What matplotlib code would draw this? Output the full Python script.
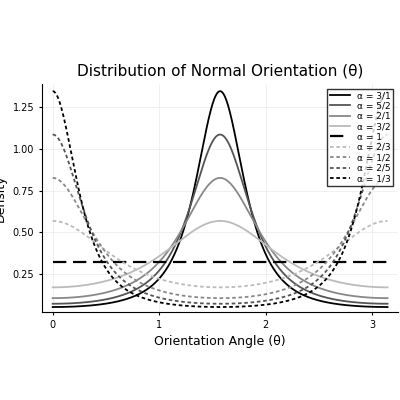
import numpy as np
import matplotlib
matplotlib.use("Agg")
import matplotlib.pyplot as plt

labels = ["α = 3/1", "α = 5/2", "α = 2/1", "α = 3/2", "α = 1", "α = 2/3", "α = 1/2", "α = 2/5", "α = 1/3"]
alphas = [3.0, 2.5, 2.0, 1.5, 1.0, 2/3, 0.5, 0.4, 1/3]
colors = ["black", "#555555", "#888888", "#bbbbbb", "black", "#bbbbbb", "#888888", "#555555", "black"]
styles = ["-", "-", "-", "-", (0, (6, 3)), (0, (2, 1.5)), (0, (2, 1.5)), (0, (2, 1.5)), (0, (2, 1.5))]

theta = np.linspace(0, np.pi, 600)
fig, ax = plt.subplots(figsize=(4, 4), dpi=100)
for a, lab, c, ls in zip(alphas, labels, colors, styles):
    f = (a**2 * np.cos(theta)**2 + np.sin(theta)**2) ** -1.5
    f = f / np.trapezoid(f, theta)
    lw = 1.6 if ls == (0, (6, 3)) else 1.3
    ax.plot(theta, f, color=c, ls=ls, lw=lw, label=lab)

ax.set_xlim(-0.1, 3.24)
ax.set_ylim(0.02, 1.39)
ax.set_xticks([0, 1, 2, 3])
ax.set_yticks([0.25, 0.5, 0.75, 1.0, 1.25])
ax.set_yticklabels(["0.25", "0.50", "0.75", "1.00", "1.25"])
ax.tick_params(labelsize=7, length=2)
ax.grid(True, color="#eeeeee", lw=0.6)
ax.set_xlabel("Orientation Angle (θ)", fontsize=9)
ax.set_ylabel("Density", fontsize=9)
ax.set_title("Distribution of Normal Orientation (θ)", fontsize=11)
ax.spines["top"].set_visible(False)
ax.spines["right"].set_visible(False)
leg = ax.legend(loc="upper right", fontsize=6.5, frameon=True, fancybox=False,
                edgecolor="black", borderpad=0.3, labelspacing=0.15, handlelength=2.2)
fig.subplots_adjust(left=0.105, right=0.995, top=0.79, bottom=0.22)
fig.savefig("out.png")
